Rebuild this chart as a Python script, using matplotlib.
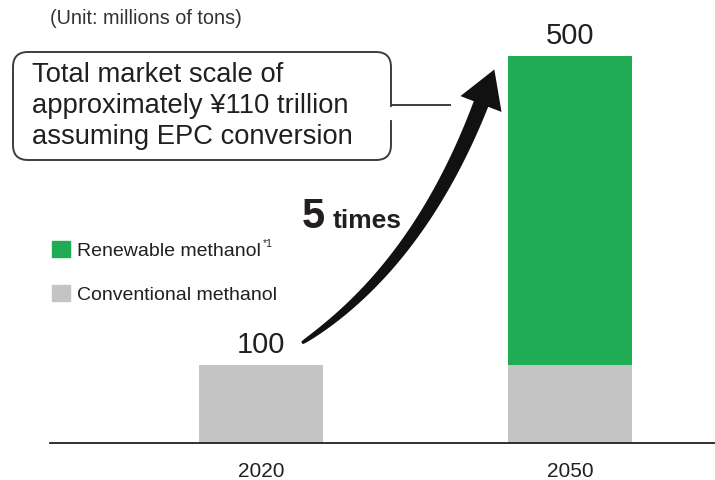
import numpy as np
import matplotlib.pyplot as plt
from matplotlib.patches import Patch, FancyBboxPatch, Polygon
from matplotlib.lines import Line2D

plt.rcParams['font.family'] = ['Liberation Sans', 'DejaVu Sans']

years = ['2020', '2050']
conventional = [100, 100]
renewable = [0, 400]
totals = [100, 500]

green = '#1fac55'
grey = '#c4c4c4'
ink = '#231f20'

W, H = 715, 480
fig = plt.figure(figsize=(W / 100, H / 100), dpi=100)
ax = fig.add_axes([50 / W, 37.5 / H, 665 / W, 442.5 / H])

x = np.arange(len(years))
ax.bar(x, conventional, width=0.40, color=grey)
ax.bar(x, renewable, width=0.40, bottom=conventional, color=green)

ax.set_xlim(-0.683, 1.469)
ax.set_ylim(0, 442.5 * 500 / 386.5)
for s in ['top', 'right', 'left']:
    ax.spines[s].set_visible(False)
ax.spines['bottom'].set_color(ink)
ax.spines['bottom'].set_linewidth(1.3)
ax.set_yticks([])
ax.set_xticks(x, years)
ax.tick_params(axis='x', length=0, pad=14, labelsize=15, labelcolor=ink)

for xi, t in zip(x, totals):
    ax.annotate(str(t), (xi, t), xytext=(0, 9), textcoords='offset points',
                ha='center', va='baseline', fontsize=21, color=ink)

# legend
handles = [Patch(color=green), Patch(color=grey)]
labels = ['Renewable methanol', 'Conventional methanol']
fig.legend(handles, labels, loc='upper left', bbox_to_anchor=(52 / W, 1 - 241 / H),
           frameon=False, fontsize=14, handlelength=0.9, handleheight=0.9,
           handletextpad=0.38, labelspacing=1.3, borderpad=0, borderaxespad=0,
           labelcolor=ink)
fig.text(263 / W, 1 - 247 / H, '*1', fontsize=7.5, color=ink, ha='left', va='baseline')

def d(px, py):
    # image pixel -> display coords
    return px, H - py

fig.text(50 / W, 1 - 18 / H, '(Unit: millions of tons)', fontsize=14.3,
         color='#333333', va='center', ha='left')

# callout box
bx0, by0, bx1, by1 = 13, 52, 391, 160
box = FancyBboxPatch(d(bx0, by1), bx1 - bx0, by1 - by0,
                     boxstyle='round,pad=0,rounding_size=15',
                     transform=None, fill=False, ec='#3d3d3d', lw=1.4)
fig.patches.append(box)
fig.lines.append(Line2D([391, 450], [H - 105, H - 105], transform=None,
                        color='#3d3d3d', lw=1.4))
fig.lines.append(Line2D([391, 391], [H - 109, H - 118], transform=None,
                        color='white', lw=3))
fig.text(32 / W, 1 - 106 / H,
         'Total market scale of\napproximately \u00a5110 trillion\nassuming EPC conversion',
         fontsize=19.7, color=ink, va='center', ha='left', linespacing=1.25)

# curved tapered arrow
P0 = np.array([302.0, 343.0])
P1 = np.array([418.0, 267.0])
P2 = np.array([481.0, 104.0])
t = np.linspace(0, 1, 60)[:, None]
pts = (1 - t) ** 2 * P0 + 2 * (1 - t) * t * P1 + t ** 2 * P2
der = 2 * (1 - t) * (P1 - P0) + 2 * t * (P2 - P1)
der = der / np.linalg.norm(der, axis=1)[:, None]
nrm = np.column_stack([der[:, 1], -der[:, 0]])
wid = 3 + 12.5 * t[:, 0] ** 0.6
left = pts + nrm * wid[:, None] / 2
right = pts - nrm * wid[:, None] / 2
dirn = der[-1]
tip = P2 + 37 * dirn
barb1 = P2 + nrm[-1] * 22
barb2 = P2 - nrm[-1] * 22
poly = np.vstack([left, barb1, tip, barb2, right[::-1]])
poly[:, 1] = H - poly[:, 1]
fig.patches.append(Polygon(poly, closed=True, transform=None, color='#111111', lw=0))

fig.text(302 / W, 1 - 228 / H, '5', fontsize=30, fontweight='bold', color=ink,
         va='baseline', ha='left')
fig.text(333 / W, 1 - 228 / H, 'times', fontsize=19, fontweight='bold', color=ink,
         va='baseline', ha='left')

fig.savefig('out.png', dpi=100)
